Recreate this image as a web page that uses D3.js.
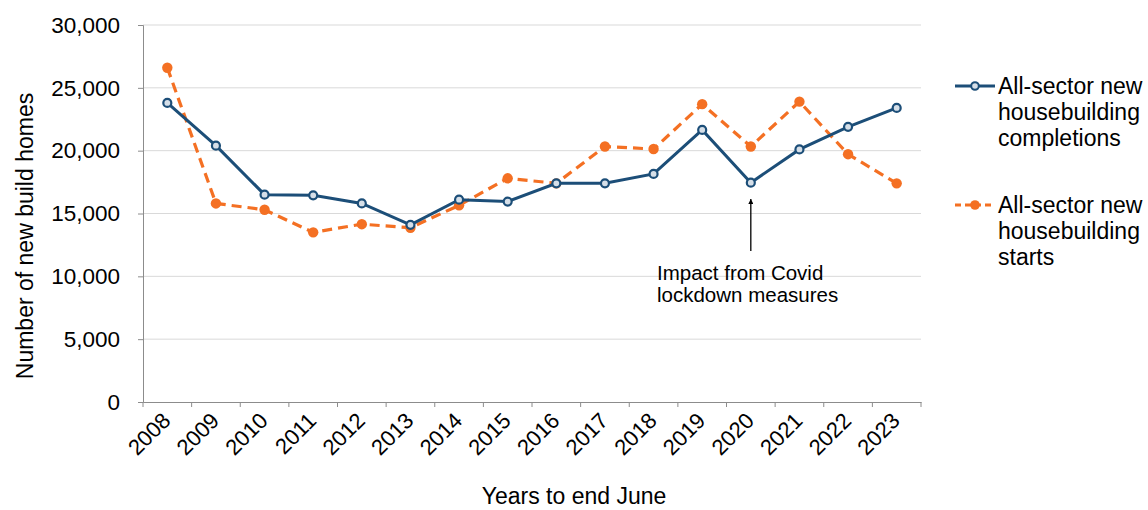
<!DOCTYPE html>
<html><head><meta charset="utf-8">
<script src="https://cdn.jsdelivr.net/npm/d3@7"></script>
<style>body{margin:0;background:#fff;} text{font-family:"Liberation Sans",Arial,sans-serif;fill:#000;}</style>
</head><body>
<svg id="c" width="1148" height="510"></svg>
<script>
const years = ["2008","2009","2010","2011","2012","2013","2014","2015","2016","2017","2018","2019","2020","2021","2022","2023"];
const completions = [23800,20400,16500,16450,15800,14100,16100,15950,17400,17400,18150,21650,17450,20100,21900,23400];
const starts = [26600,15800,15300,13500,14150,13870,15650,17800,17400,20330,20130,23700,20330,23900,19720,17400];
const yTicks = [0,5000,10000,15000,20000,25000,30000];
const seriesNames = [["All-sector new","housebuilding","completions"],["All-sector new","housebuilding","starts"]];
const annotation = ["Impact from Covid","lockdown measures"];

const svg = d3.select("#c");
const L=143, R=921, T=25, B=402;
const x = d3.scaleBand().domain(years).range([L,R]);
const y = d3.scaleLinear().domain([0,30000]).range([B,T]);
const blue="#1c4e78", orange="#f47023";

// gridlines
svg.append("g").selectAll("line").data(yTicks.filter(d=>d>0)).join("line")
  .attr("x1",L).attr("x2",R).attr("y1",d=>y(d)).attr("y2",d=>y(d))
  .attr("stroke","#d9d9d9").attr("stroke-width",1);

// y axis
const ya = svg.append("g").attr("transform",`translate(${L},0)`)
  .call(d3.axisLeft(y).tickValues(yTicks).tickFormat(d3.format(",")).tickSize(5).tickPadding(18));
ya.select(".domain").attr("stroke","#8c8c8c");
ya.selectAll(".tick line").attr("stroke","#8c8c8c");
ya.selectAll("text").attr("font-size",22.5).attr("font-family",'"Liberation Sans",Arial,sans-serif');

// x axis
const xa = svg.append("g").attr("transform",`translate(0,${B})`)
  .call(d3.axisBottom(x).tickSize(0).tickFormat(""));
xa.select(".domain").attr("stroke","#8c8c8c");
const xt = d3.range(years.length+1).map(i=>L+i*x.step());
svg.append("g").selectAll("line").data(xt).join("line")
  .attr("x1",d=>d).attr("x2",d=>d).attr("y1",B).attr("y2",B+5).attr("stroke","#8c8c8c");
svg.append("g").selectAll("text").data(years).join("text")
  .attr("transform",d=>`translate(${x(d)+x.bandwidth()/2+4.5},${B+20}) rotate(-45)`)
  .attr("text-anchor","end").attr("font-size",22).text(d=>d);

// axis titles
svg.append("text").attr("transform",`translate(33,236) rotate(-90)`)
  .attr("text-anchor","middle").attr("font-size",23).text("Number of new build homes");
svg.append("text").attr("x",574).attr("y",504).attr("text-anchor","middle").attr("font-size",23).text("Years to end June");

const cx = d=>x(d)+x.bandwidth()/2;
const line = d3.line().x((d,i)=>cx(years[i])).y(d=>y(d));

// starts
svg.append("path").datum(starts).attr("d",line).attr("fill","none")
  .attr("stroke",orange).attr("stroke-width",3.2).attr("stroke-dasharray","10,6");
svg.append("g").selectAll("circle").data(starts).join("circle")
  .attr("cx",(d,i)=>cx(years[i])).attr("cy",d=>y(d)).attr("r",5.2).attr("fill",orange);

// completions
svg.append("path").datum(completions).attr("d",line).attr("fill","none")
  .attr("stroke",blue).attr("stroke-width",3);
svg.append("g").selectAll("circle").data(completions).join("circle")
  .attr("cx",(d,i)=>cx(years[i])).attr("cy",d=>y(d)).attr("r",4)
  .attr("fill","#d6dfe8").attr("stroke",blue).attr("stroke-width",2.2);

// annotation
const ax = cx("2020");
svg.append("defs").append("marker").attr("id","ah").attr("viewBox","0 0 10 10")
  .attr("refX",10).attr("refY",5).attr("markerWidth",4).attr("markerHeight",4).attr("orient","auto")
  .append("path").attr("d","M0,0L10,5L0,10z").attr("fill","#000");
svg.append("line").attr("x1",ax).attr("x2",ax).attr("y1",251).attr("y2",199)
  .attr("stroke","#000").attr("stroke-width",1.3).attr("marker-end","url(#ah)");
svg.append("g").selectAll("text").data(annotation).join("text")
  .attr("x",657).attr("y",(d,i)=>280+i*22).attr("font-size",20.5).text(d=>d);

// legend
const lg = svg.append("g");
[[blue,null,86],[orange,"6,4",205]].forEach((s,k)=>{
  const g = lg.append("g");
  g.append("line").attr("x1",955).attr("x2",995).attr("y1",s[2]).attr("y2",s[2])
    .attr("stroke",s[0]).attr("stroke-width",3).attr("stroke-dasharray",s[1]);
  if(k===0) g.append("circle").attr("cx",975).attr("cy",s[2]).attr("r",3.8).attr("fill","#d6dfe8").attr("stroke",blue).attr("stroke-width",2);
  else g.append("circle").attr("cx",975).attr("cy",s[2]).attr("r",4.8).attr("fill",orange);
  g.selectAll("text").data(seriesNames[k]).join("text")
    .attr("x",998).attr("y",(d,i)=>s[2]+7.5+i*26).attr("font-size",23).text(d=>d);
});
</script>
</body></html>
